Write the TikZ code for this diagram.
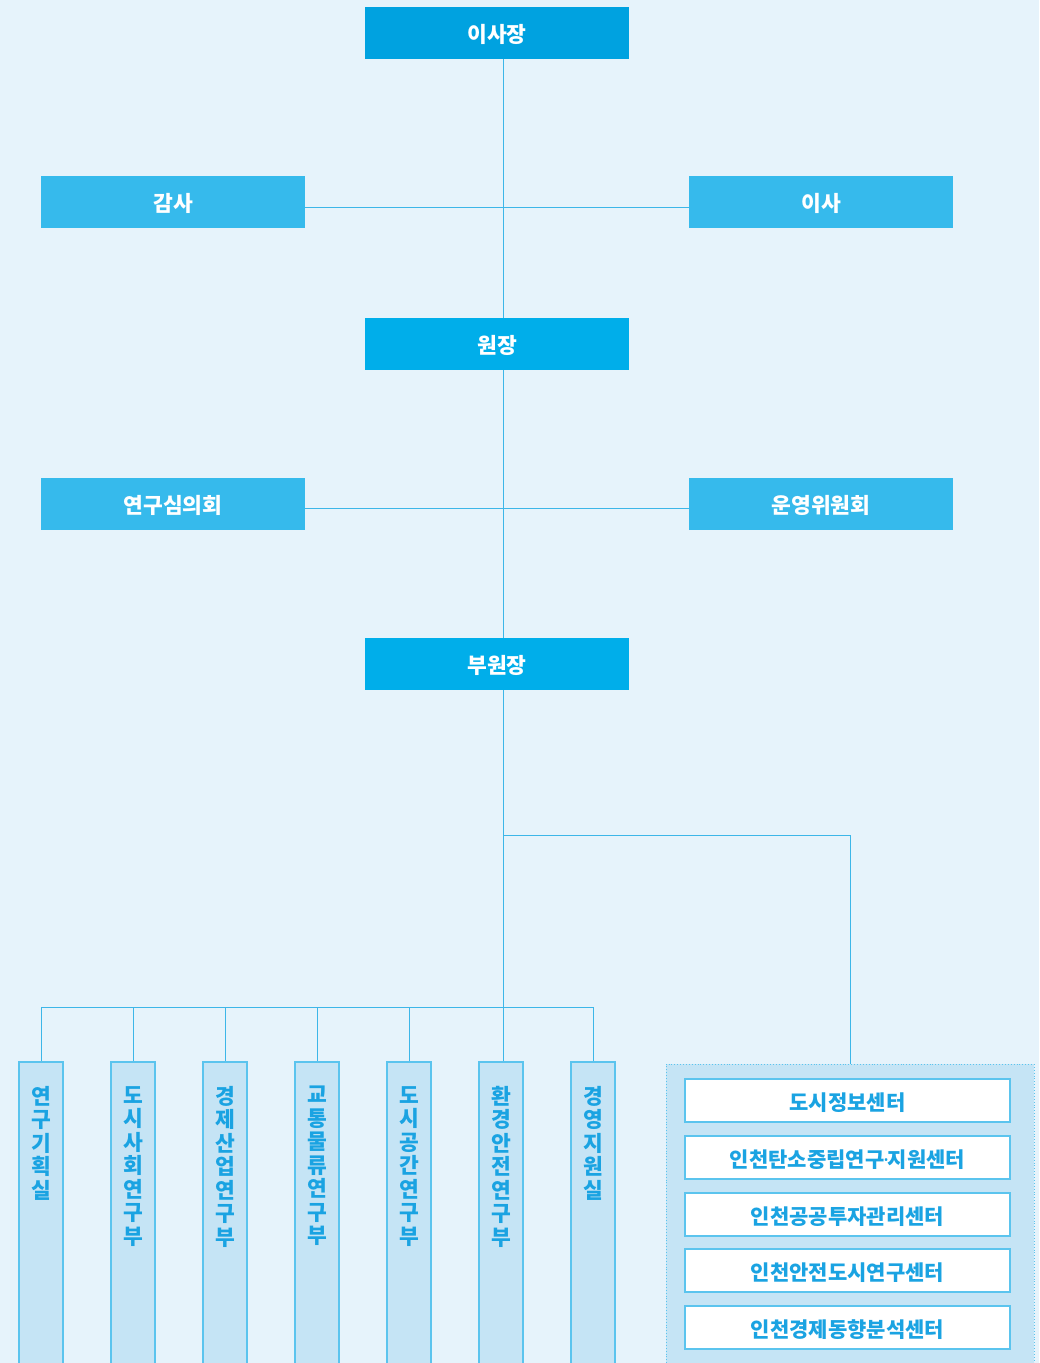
\documentclass[tikz,border=0pt]{standalone}
\usepackage{fontspec}
\newfontfamily\kr{Noto Sans CJK KR}
\newfontfamily\krlat{Noto Sans}
\definecolor{bgc}{HTML}{E6F3FB}
\definecolor{topc}{HTML}{00A2E0}
\definecolor{midc}{HTML}{00AEEA}
\definecolor{sidec}{HTML}{36BAEC}
\definecolor{linec}{HTML}{3DB6E8}
\definecolor{colfill}{HTML}{C5E4F5}
\definecolor{colline}{HTML}{5BC4EE}
\definecolor{txtc}{HTML}{1AA3E2}
\pgfdeclarelayer{bgzero}
\pgfdeclarelayer{bgone}
\pgfsetlayers{bgzero,bgone,main}
\begin{document}
\begin{tikzpicture}[x=1pt,y=-1pt,
  headbox/.style={minimum width=264pt,minimum height=52pt,inner sep=0pt,text=white,font=\kr\bfseries\fontsize{21.5}{24}\selectfont,text height=19pt,text depth=0pt},
  colbox/.style={draw=colline,fill=colfill,line width=1.2pt},
  coltext/.style={anchor=north,inner sep=0pt,align=center,text=txtc,font=\kr\bfseries\fontsize{21.5}{23.5}\selectfont},
  centbox/.style={draw=colline,fill=white,line width=1.2pt,minimum width=325pt,minimum height=43pt,inner sep=0pt,text=txtc,font=\kr\bfseries\fontsize{21}{24}\selectfont,text height=19pt,text depth=0pt},
  conn/.style={draw=linec,line width=1pt}]
\useasboundingbox (0,0) rectangle (1039,1363);
\begin{pgfonlayer}{bgzero}
\fill[bgc] (0,0) rectangle (1039,1363);
\end{pgfonlayer}
% head boxes
\node[headbox,fill=topc] (chair) at (497,33) {이사장};
\node[headbox,fill=sidec] (audit) at (173,202) {감사};
\node[headbox,fill=sidec] (board) at (821,202) {이사};
\node[headbox,fill=midc] (pres) at (497,344) {원장};
\node[headbox,fill=sidec] (council) at (173,504) {연구심의회};
\node[headbox,fill=sidec] (steer) at (821,504) {운영위원회};
\node[headbox,fill=midc] (vice) at (497,664) {부원장};
% columns
\foreach \n/\x/\t in {c1/41/{연\\구\\기\\획\\실},c2/133/{도\\시\\사\\회\\연\\구\\부},c3/225/{경\\제\\산\\업\\연\\구\\부},c4/317/{교\\통\\물\\류\\연\\구\\부},c5/409/{도\\시\\공\\간\\연\\구\\부},c6/501/{환\\경\\안\\전\\연\\구\\부},c7/593/{경\\영\\지\\원\\실}}{
  \coordinate (\n top) at (\x,1062);
  \coordinate (\n hook) at (\x,1007);
  \draw[colbox] (\x-22,1366) -- (\x-22,1062) -- (\x+22,1062) -- (\x+22,1366);
  \node[coltext] (\n) at (\x,1086) {\t};
}
% center group
\draw[draw=colline,fill=colfill,line width=0.9pt,dotted] (666,1366) -- (666,1064) -- (1034,1064) -- (1034,1366);
\coordinate (grouptop) at (850,1064);
\node[centbox] (d1) at (847.5,1100.5) {도시정보센터};
\node[centbox] (d2) at (847.5,1157.5) {인천탄소중립연구{\krlat\bfseries\kern-1pt·\kern-1pt}지원센터};
\node[centbox] (d3) at (847.5,1214.5) {인천공공투자관리센터};
\node[centbox] (d4) at (847.5,1270.5) {인천안전도시연구센터};
\node[centbox] (d5) at (847.5,1327.5) {인천경제동향분석센터};
% connectors
\coordinate (spine) at (503,59);
\coordinate (spineend) at (503,1062);
\coordinate (brk) at (503,835);
\coordinate (brk2) at (850,835);
\begin{pgfonlayer}{bgone}
\draw[conn] (spine) -- (spineend);
\draw[conn] ([yshift=-5pt]audit.east) -- ([yshift=-5pt]board.west);
\draw[conn] ([yshift=-4pt]council.east) -- ([yshift=-4pt]steer.west);
\draw[conn] (brk) -- (brk2) -- (grouptop);
\draw[conn] (c1hook) -- (c7hook);
\foreach \n in {c1,c2,c3,c4,c5,c7}{\draw[conn] (\n hook) -- (\n top);}
\end{pgfonlayer}
\end{tikzpicture}
\end{document}
